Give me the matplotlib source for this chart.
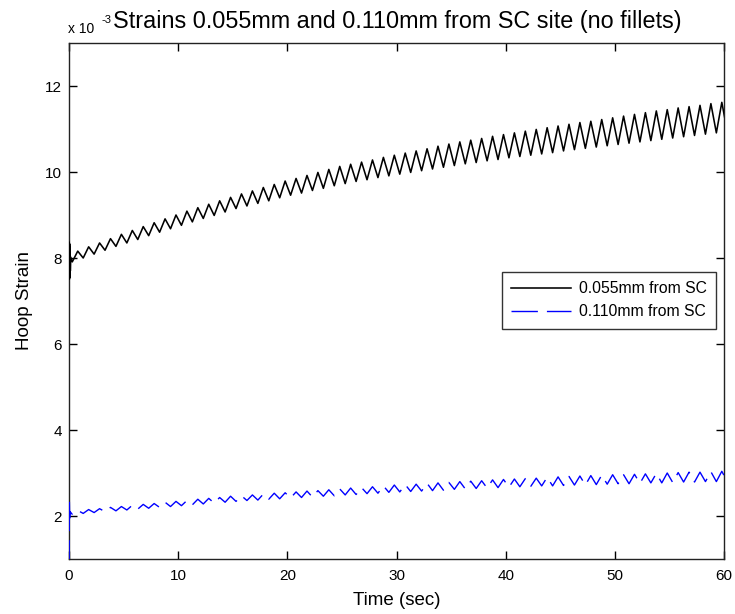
import numpy as np
import matplotlib
matplotlib.use("Agg")
import matplotlib.pyplot as plt

plt.rcParams['font.family'] = ['Liberation Sans', 'DejaVu Sans']

# Hoop strain, in units of 1e-3. One cardiac cycle per second:
# troughs fall near t = k + 0.3 s, peaks near t = k + 0.8 s.
t_trough = [k + 0.3 for k in range(61)]
t_peak = [k + 0.8 for k in range(60)]

# 0.055 mm from SC
near_trough = [7.91, 8.00, 8.09, 8.18, 8.27, 8.35, 8.43, 8.52, 8.60, 8.68,
               8.76, 8.84, 8.92, 8.99, 9.07, 9.15, 9.21, 9.27, 9.33, 9.40,
               9.46, 9.51, 9.57, 9.62, 9.68, 9.73, 9.78, 9.82, 9.87, 9.91,
               9.95, 9.99, 10.03, 10.07, 10.11, 10.15, 10.19, 10.22, 10.26, 10.29,
               10.33, 10.36, 10.39, 10.42, 10.45, 10.49, 10.52, 10.55, 10.58, 10.61,
               10.64, 10.67, 10.70, 10.73, 10.76, 10.79, 10.82, 10.85, 10.88, 10.91,
               10.94]
near_peak = [8.16, 8.26, 8.35, 8.45, 8.55, 8.64, 8.73, 8.82, 8.91, 9.00,
             9.09, 9.17, 9.25, 9.33, 9.41, 9.49, 9.56, 9.64, 9.71, 9.79,
             9.85, 9.92, 9.99, 10.06, 10.13, 10.18, 10.23, 10.28, 10.34, 10.39,
             10.44, 10.49, 10.54, 10.60, 10.65, 10.70, 10.74, 10.78, 10.83, 10.87,
             10.91, 10.95, 10.99, 11.03, 11.07, 11.11, 11.15, 11.18, 11.22, 11.26,
             11.30, 11.34, 11.38, 11.42, 11.45, 11.49, 11.52, 11.55, 11.59, 11.62]
near_start_t = [0.0, 0.02, 0.04, 0.06, 0.08, 0.10, 0.12, 0.16]
near_start = [7.96, 8.37, 7.51, 8.33, 7.55, 8.25, 7.70, 8.02]

# 0.110 mm from SC
far_trough = [2.04, 2.06, 2.08, 2.10, 2.12, 2.14, 2.16, 2.18, 2.20, 2.22,
              2.24, 2.26, 2.28, 2.30, 2.32, 2.34, 2.36, 2.37, 2.39, 2.40,
              2.42, 2.43, 2.44, 2.46, 2.47, 2.49, 2.50, 2.52, 2.53, 2.55,
              2.56, 2.57, 2.58, 2.59, 2.60, 2.62, 2.63, 2.64, 2.65, 2.66,
              2.67, 2.68, 2.69, 2.70, 2.70, 2.71, 2.72, 2.72, 2.73, 2.74,
              2.75, 2.75, 2.76, 2.77, 2.77, 2.78, 2.79, 2.79, 2.80, 2.80,
              2.80]
far_peak = [2.13, 2.15, 2.17, 2.20, 2.22, 2.25, 2.27, 2.29, 2.32, 2.34,
            2.36, 2.39, 2.41, 2.43, 2.46, 2.47, 2.49, 2.51, 2.53, 2.54,
            2.56, 2.58, 2.59, 2.61, 2.63, 2.65, 2.66, 2.68, 2.70, 2.72,
            2.73, 2.74, 2.76, 2.77, 2.78, 2.80, 2.81, 2.82, 2.84, 2.85,
            2.86, 2.87, 2.88, 2.90, 2.91, 2.92, 2.93, 2.94, 2.95, 2.96,
            2.96, 2.97, 2.98, 2.99, 3.00, 3.01, 3.02, 3.02, 3.03, 3.04]
far_start_t = [0.0, 0.03, 0.06, 0.10]
far_start = [0.0, 2.40, 1.95, 2.10]

x_ticks = [0, 10, 20, 30, 40, 50, 60]
y_ticks = [2, 4, 6, 8, 10, 12]


def merge(start_t, start_v, tt, tv, pt, pv):
    """Series of start transient followed by alternating trough/peak samples."""
    t = list(start_t)
    v = list(start_v)
    for i in range(len(tt)):
        t.append(tt[i]); v.append(tv[i])
        if i < len(pt):
            t.append(pt[i]); v.append(pv[i])
    return np.array(t), np.array(v)


t_near, s_near = merge(near_start_t, near_start, t_trough, near_trough, t_peak, near_peak)
t_far, s_far = merge(far_start_t, far_start, t_trough, far_trough, t_peak, far_peak)

W, H = 735, 614
fig = plt.figure(figsize=(W / 100, H / 100), dpi=100)
ax = fig.add_axes([69 / W, 1 - 559 / H, (724 - 69) / W, (559 - 43) / H])

ax.plot(t_near, s_near, color='black', lw=1.15, zorder=3, label='0.055mm from SC')
ax.plot(t_far, s_far, color='#0000FF', lw=1.0, zorder=3,
        linestyle=(0, (19, 6.5)), label='0.110mm from SC')

ax.set_xlim(0, 60)
ax.set_ylim(1, 13)
ax.set_xticks(x_ticks)
ax.set_yticks(y_ticks)
ax.set_xticklabels([str(v) for v in x_ticks])
ax.set_yticklabels([str(v) for v in y_ticks])
ax.tick_params(direction='in', length=5.5, width=1, top=True, right=True,
               labelsize=11, colors='black')
ax.tick_params(axis='x', pad=7)
ax.tick_params(axis='y', pad=5)
for sp in ax.spines.values():
    sp.set_linewidth(1)
    sp.set_color('#222222')
    sp.set_zorder(2)

ax.set_xlabel('Time (sec)', fontsize=13.5, labelpad=7)
ax.set_ylabel('Hoop Strain', fontsize=13.5, labelpad=9)

fig.text(113 / W, 1 - 28 / H, 'Strains 0.055mm and 0.110mm from SC site (no fillets)',
         fontsize=16.8, ha='left', va='baseline')
fig.text(68 / W, 1 - 33 / H, 'x 10', fontsize=10, ha='left', va='baseline')
fig.text(101 / W, 1 - 23 / H, '-3', fontsize=8, ha='left', va='baseline')

leg = ax.legend(loc='upper left', bbox_to_anchor=(502 / W, 1 - 272 / H),
                bbox_transform=fig.transFigure, fontsize=11.3, frameon=True,
                fancybox=False, shadow=False, borderpad=0.6, handlelength=3.8,
                handletextpad=0.5, labelspacing=0.5, borderaxespad=0)
leg.get_frame().set_edgecolor('black')
leg.get_frame().set_linewidth(1)

fig.savefig('out.png', dpi=100)
